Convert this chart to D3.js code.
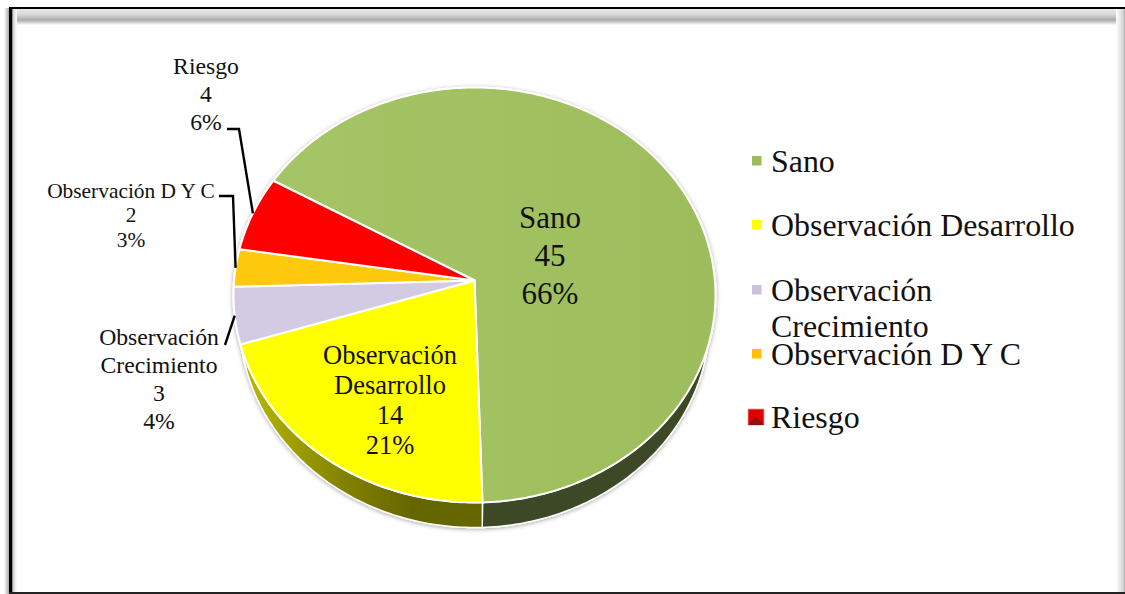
<!DOCTYPE html>
<html>
<head>
<meta charset="utf-8">
<script src="https://cdn.jsdelivr.net/npm/d3@7"></script>
<style>
html, body { margin: 0; padding: 0; background: #fff; overflow: hidden; }
svg { display: block; }
text { font-family: "Liberation Serif", serif; fill: #111; text-anchor: middle; }
</style>
</head>
<body>
<svg id="graph"></svg>
<script>
var categories = ["Sano", "Observación Desarrollo", "Observación Crecimiento", "Observación D Y C", "Riesgo"];
var values = [45, 14, 3, 2, 4];
var percents = ["66%", "21%", "4%", "3%", "6%"];
var colors = ["#a1c161", "#ffff00", "#d3cbe3", "#ffc90e", "#ff0000"];
var legendColors = ["#9bbb59", "#ffff00", "#ccc1da", "#ffc000", "#e00000"];

var width = 1125, height = 594;
var cx = 474.5, cy = 280.5;
var depth = 25;

var svg = d3.select("#graph").attr("width", width).attr("height", height);
var defs = svg.append("defs");

function linear(id, x1, y1, x2, y2, stops) {
    var g = defs.append("linearGradient").attr("id", id)
        .attr("gradientUnits", "userSpaceOnUse")
        .attr("x1", x1).attr("y1", y1).attr("x2", x2).attr("y2", y2);
    stops.forEach(function (s) {
        g.append("stop").attr("offset", s[0]).attr("stop-color", s[1]);
    });
}
linear("frameTop", 0, 9, 0, 25, [[0, "#e8e8e8"], [0.35, "#d8d8d8"], [0.68, "#ababab"], [0.85, "#d4d4d4"], [1, "#ffffff"]]);
linear("frameLeftOut", 4, 0, 9, 0, [[0, "#ffffff"], [1, "#a8a8a8"]]);
linear("frameLeftIn", 12, 0, 17, 0, [[0, "#c4c4c4"], [1, "#ffffff"]]);
linear("frameRight", 1116, 0, 1125, 0, [[0, "#ffffff"], [0.8, "#d4d4d4"], [1, "#a8a8a8"]]);
linear("sanoTop", 240, 0, 715, 0, [[0, "#a6c568"], [0.6, "#a1c161"], [1, "#9dbc5b"]]);
linear("wall0", 470, 0, 715, 0, [[0, "#3e4a26"], [1, "#3e4a26"]]);
linear("wall1", 240, 0, 484, 0, [[0, "#bcbc00"], [0.45, "#7f7f00"], [0.7, "#666600"], [1, "#666600"]]);
linear("wallOther", 230, 0, 260, 0, [[0, "#8f8a99"], [1, "#8f8a99"]]);

var shadow = defs.append("filter").attr("id", "soft")
    .attr("x", "-5%").attr("y", "-5%").attr("width", "110%").attr("height", "110%");
shadow.append("feDropShadow").attr("dx", 0).attr("dy", 1).attr("stdDeviation", 2)
    .attr("flood-color", "#000").attr("flood-opacity", 0.35);

// frame
var frame = svg.append("g");
frame.append("rect").attr("x", 9).attr("y", 9).attr("width", 1108).attr("height", 16).attr("fill", "url(#frameTop)");
frame.append("rect").attr("x", 4).attr("y", 8).attr("width", 5).attr("height", 586).attr("fill", "url(#frameLeftOut)");
frame.append("rect").attr("x", 12).attr("y", 10).attr("width", 5).attr("height", 582).attr("fill", "url(#frameLeftIn)");
frame.append("rect").attr("x", 1116).attr("y", 9).attr("width", 9).attr("height", 585).attr("fill", "url(#frameRight)");
frame.append("rect").attr("x", 9).attr("y", 7).attr("width", 1116).attr("height", 2).attr("fill", "#000");
frame.append("rect").attr("x", 9).attr("y", 7).attr("width", 3.3).attr("height", 587).attr("fill", "#000");
frame.append("rect").attr("x", 9).attr("y", 592).attr("width", 1116).attr("height", 2).attr("fill", "#222");

// pie seen in perspective: the unit circle goes through a projection
var k = 0.0699, scaleX = 240.4, scaleY = 206.5;
function project(angle, r) {
    var ux = Math.sin(angle) * r, uy = -Math.cos(angle) * r;
    var w = 1 - k * uy;
    return [cx + scaleX * ux / w, cy + scaleY * uy / w];
}
function under(p) {
    return [cx + (p[0] - cx) * 0.975, p[1] + depth];
}

var pie = d3.pie().sort(null)
    .startAngle(-60 * Math.PI / 180)
    .endAngle(300 * Math.PI / 180);
var arcs = pie(values);
var line = d3.line();

function rim(d) {
    var n = Math.max(2, Math.ceil((d.endAngle - d.startAngle) * 60));
    return d3.range(n + 1).map(function (i) {
        return project(d.startAngle + (d.endAngle - d.startAngle) * i / n, 1);
    });
}

var body = svg.append("g").attr("filter", "url(#soft)");

// side wall goes first, the top faces paint over what is hidden
body.selectAll("path.wall")
    .data(arcs)
    .enter().append("path")
    .attr("class", "wall")
    .attr("d", function (d) {
        var r = rim(d);
        return line(r.concat(r.slice().reverse().map(under))) + "Z";
    })
    .attr("fill", function (d, i) {
        return i < 2 ? "url(#wall" + i + ")" : "url(#wallOther)";
    })
    .attr("stroke", "#fff")
    .attr("stroke-width", 1.5)
    .attr("stroke-linejoin", "round");

body.selectAll("path.slice")
    .data(arcs)
    .enter().append("path")
    .attr("class", "slice")
    .attr("d", function (d) {
        return line([[cx, cy]].concat(rim(d))) + "Z";
    })
    .attr("fill", function (d, i) {
        return i === 0 ? "url(#sanoTop)" : colors[i];
    })
    .attr("stroke", "#fff")
    .attr("stroke-width", 2)
    .attr("stroke-linejoin", "round");

function labelLines(i) {
    var name = i === 1 ? ["Observación", "Desarrollo"] : i === 2 ? ["Observación", "Crecimiento"] : [categories[i]];
    return name.concat([String(values[i]), percents[i]]);
}

// label placing: centre x, first baseline, line step, font size
var labelSpots = [
    [550, 228, 38, 31],
    [390, 364, 30, 26.5],
    [159, 345, 28, 23.7],
    [131, 198, 24.3, 21.4],
    [206, 74, 28, 23.7]
];
var labels = svg.selectAll("text.label")
    .data(labelSpots)
    .enter().append("text")
    .attr("class", "label")
    .attr("x", function (d) { return d[0]; })
    .attr("y", function (d) { return d[1]; })
    .attr("font-size", function (d) { return d[3]; });
labels.each(function (d, i) {
    d3.select(this).selectAll("tspan")
        .data(labelLines(i))
        .enter().append("tspan")
        .attr("x", d[0])
        .attr("y", function (t, j) { return d[1] + j * d[2]; })
        .text(function (t) { return t; });
});

// leader lines for the three outside labels end at the slice's rim midpoint
var leaderStarts = { 2: [[225, 345]], 3: [[219, 196], [233, 196]], 4: [[227, 129], [239, 129]] };
[2, 3, 4].forEach(function (i) {
    var mid = (arcs[i].startAngle + arcs[i].endAngle) / 2;
    svg.append("path")
        .attr("d", line(leaderStarts[i].concat([project(mid, 1)])))
        .attr("fill", "none")
        .attr("stroke", "#000")
        .attr("stroke-width", 2.4);
});

// legend
var legendY = d3.scaleOrdinal().domain(categories).range([172, 236, 301, 365, 428]);
var legend = svg.selectAll("g.legend")
    .data(categories)
    .enter().append("g")
    .attr("class", "legend")
    .attr("transform", function (d) { return "translate(0," + legendY(d) + ")"; });
legend.append("rect")
    .attr("x", function (d, i) { return i === 4 ? 748 : 752; })
    .attr("y", function (d, i) { return i === 4 ? -19 : -16; })
    .attr("width", function (d, i) { return i === 4 ? 16 : 9.5; })
    .attr("height", function (d, i) { return i === 4 ? 16 : 9.5; })
    .attr("fill", function (d, i) { return legendColors[i]; })
    .attr("stroke", function (d, i) { return i === 4 ? "#f4a0a0" : "none"; })
    .attr("stroke-width", 0.8);
legend.filter(function (d, i) { return i === 4; }).append("path")
    .attr("d", line([[748, -3], [756, -11], [764, -3]]) + "Z")
    .attr("fill", "#8e1010");
legend.append("text")
    .attr("x", 771)
    .attr("font-size", 31.9)
    .style("text-anchor", "start")
    .each(function (d, i) {
        var parts = i === 2 ? ["Observación", "Crecimiento"] : [d];
        d3.select(this).selectAll("tspan")
            .data(parts)
            .enter().append("tspan")
            .attr("x", 771)
            .attr("y", function (t, j) { return j * 36; })
            .text(function (t) { return t; });
    });
</script>
</body>
</html>
